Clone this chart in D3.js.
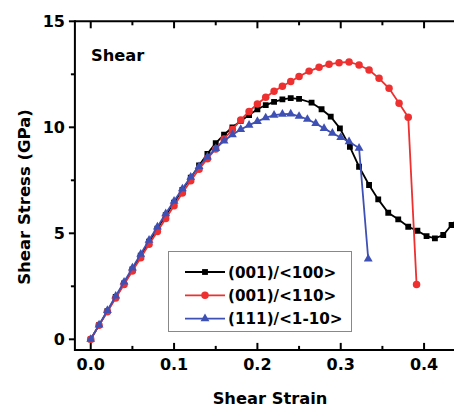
<!DOCTYPE html>
<html><head><meta charset="utf-8">
<script src="https://cdn.jsdelivr.net/npm/d3@7"></script>
<style>body{margin:0;background:#fff}svg{display:block}text{font-family:"DejaVu Sans",sans-serif;font-weight:bold}</style>
</head><body><svg id="c" width="454" height="409"></svg>
<script>
const strain100 = [0,0.01,0.02,0.03,0.04,0.05,0.06,0.07,0.08,0.09,0.10,0.11,0.12,0.13,0.14,0.15,0.16,0.17,0.18,0.19,0.20,0.21,0.22,0.23,0.24,0.25,0.265,0.277,0.288,0.299,0.311,0.322,0.334,0.345,0.357,0.369,0.381,0.392,0.403,0.413,0.423,0.433,0.443];
const stress100 = [0,0.67,1.33,2.0,2.64,3.3,3.95,4.6,5.22,5.85,6.45,7.05,7.62,8.2,8.75,9.25,9.65,10.0,10.3,10.58,10.85,11.05,11.2,11.32,11.38,11.34,11.16,10.85,10.5,9.95,9.08,8.14,7.28,6.6,5.97,5.66,5.31,5.12,4.87,4.76,4.92,5.39,5.8];
const strain110 = [0,0.01,0.02,0.03,0.04,0.05,0.06,0.07,0.08,0.09,0.10,0.11,0.12,0.13,0.14,0.15,0.16,0.17,0.18,0.19,0.20,0.21,0.22,0.23,0.24,0.25,0.262,0.274,0.286,0.298,0.31,0.322,0.334,0.346,0.358,0.37,0.381,0.391];
const stress110 = [0,0.66,1.3,1.95,2.58,3.22,3.85,4.48,5.08,5.7,6.3,6.9,7.48,8.02,8.52,8.98,9.45,9.9,10.35,10.75,11.1,11.42,11.7,11.94,12.16,12.4,12.65,12.83,12.97,13.05,13.08,12.94,12.7,12.31,11.84,11.13,10.47,2.59];
const strain1m10 = [0,0.01,0.02,0.03,0.04,0.05,0.06,0.07,0.08,0.09,0.10,0.11,0.12,0.13,0.14,0.15,0.16,0.17,0.18,0.19,0.20,0.21,0.22,0.23,0.24,0.25,0.26,0.27,0.28,0.29,0.30,0.31,0.322,0.333];
const stress1m10 = [0,0.68,1.36,2.04,2.7,3.37,4.02,4.68,5.3,5.93,6.52,7.1,7.65,8.15,8.6,9.0,9.36,9.65,9.9,10.1,10.28,10.45,10.57,10.62,10.63,10.52,10.38,10.18,9.95,9.72,9.52,9.32,9.02,3.79];
const seriesNames = ["(001)/<100>","(001)/<110>","(111)/<1-10>"];
const seriesColors = ["#000000","#ee3030","#3f50b5"];
const xMajor = [0,0.1,0.2,0.3,0.4];
const xMinor = [0.05,0.15,0.25,0.35];
const yMajor = [0,5,10,15];
const yMinor = [2.5,7.5,12.5];

const svg = d3.select("#c");
const x = d3.scaleLinear().domain([-0.019,0.44]).range([74.9,457.4]);
const y = d3.scaleLinear().domain([-0.5,15]).range([349.9,21.3]);
const L = x.range()[0], R = 470, T = y(15), B = y(-0.5);

const series = [
  {name:seriesNames[0], color:seriesColors[0], sym:d3.symbolSquare, size:34, pts:strain100.map((s,i)=>[s,stress100[i]])},
  {name:seriesNames[1], color:seriesColors[1], sym:d3.symbolCircle, size:44, pts:strain110.map((s,i)=>[s,stress110[i]])},
  {name:seriesNames[2], color:seriesColors[2], sym:d3.symbolTriangle, size:34, pts:strain1m10.map((s,i)=>[s,stress1m10[i]])}
];

svg.append("clipPath").attr("id","clip").append("rect").attr("x",L).attr("y",T-6).attr("width",R-L).attr("height",B-T+6);
const g = svg.append("g").attr("clip-path","url(#clip)");
const line = d3.line().x(d=>x(d[0])).y(d=>y(d[1]));
series.forEach(s=>{
  g.append("path").attr("d",line(s.pts)).attr("fill","none").attr("stroke",s.color).attr("stroke-width",1.8);
  g.selectAll(null).data(s.pts).enter().append("path")
    .attr("d",d3.symbol().type(s.sym).size(s.size))
    .attr("transform",d=>`translate(${x(d[0])},${y(d[1])})`)
    .attr("fill",s.color);
});

// axes
const ax = svg.append("g").attr("stroke","#000");
ax.append("line").attr("x1",L).attr("x2",R).attr("y1",B).attr("y2",B).attr("stroke-width",2);
ax.append("line").attr("x1",L).attr("x2",R).attr("y1",T).attr("y2",T).attr("stroke-width",2);
ax.append("line").attr("x1",L).attr("x2",L).attr("y1",T-1).attr("y2",B+1).attr("stroke-width",2);
xMajor.forEach(v=>{
  ax.append("line").attr("x1",x(v)).attr("x2",x(v)).attr("y1",B).attr("y2",B-7).attr("stroke-width",2);
  ax.append("line").attr("x1",x(v)).attr("x2",x(v)).attr("y1",T).attr("y2",T+7).attr("stroke-width",2);
});
xMinor.forEach(v=>{
  ax.append("line").attr("x1",x(v)).attr("x2",x(v)).attr("y1",B).attr("y2",B-4).attr("stroke-width",2);
  ax.append("line").attr("x1",x(v)).attr("x2",x(v)).attr("y1",T).attr("y2",T+4).attr("stroke-width",2);
});
yMajor.forEach(v=>{
  ax.append("line").attr("x1",L).attr("x2",L-6).attr("y1",y(v)).attr("y2",y(v)).attr("stroke-width",2);
});
yMinor.forEach(v=>{
  ax.append("line").attr("x1",L).attr("x2",L-4).attr("y1",y(v)).attr("y2",y(v)).attr("stroke-width",2);
});
xMajor.forEach(v=>{
  svg.append("text").attr("x",x(v)).attr("y",B+20).attr("text-anchor","middle").attr("font-size",16).text(d3.format(".1f")(v));
});
yMajor.forEach(v=>{
  svg.append("text").attr("x",L-10).attr("y",y(v)+6).attr("text-anchor","end").attr("font-size",16).text(v);
});
svg.append("text").attr("x",270).attr("y",404).attr("text-anchor","middle").attr("font-size",16.3).text("Shear Strain");
svg.append("text").attr("transform","translate(30,197) rotate(-90)").attr("text-anchor","middle").attr("font-size",16.5).text("Shear Stress (GPa)");
svg.append("text").attr("x",91).attr("y",61).attr("font-size",16.3).text("Shear");

// legend
const lg = svg.append("g");
lg.append("rect").attr("x",168.5).attr("y",251.5).attr("width",183).attr("height",80).attr("fill","#fff").attr("stroke","#888").attr("stroke-width",1);
series.forEach((s,i)=>{
  const yy = 272 + i*23.3;
  lg.append("line").attr("x1",185).attr("x2",225).attr("y1",yy).attr("y2",yy).attr("stroke",s.color).attr("stroke-width",1.8);
  lg.append("path").attr("d",d3.symbol().type(s.sym).size(s.size)).attr("transform",`translate(205,${yy})`).attr("fill",s.color);
  lg.append("text").attr("x",228).attr("y",yy+5.5).attr("font-size",15.2).text(s.name);
});
</script></body></html>
